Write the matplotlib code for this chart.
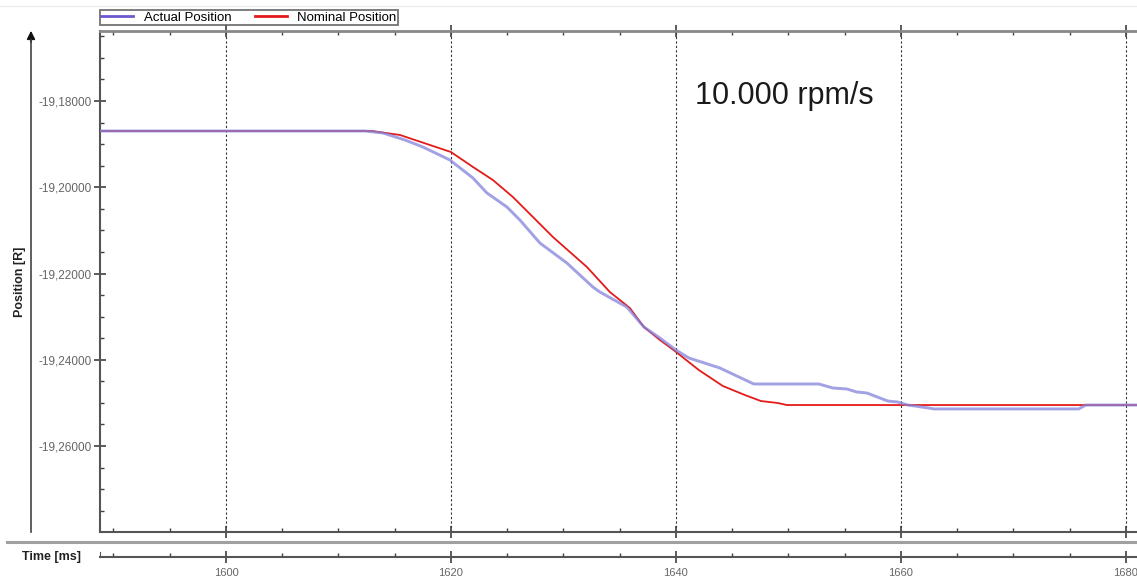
import matplotlib
matplotlib.use("Agg")
import matplotlib.pyplot as plt
from matplotlib.lines import Line2D
from matplotlib.ticker import MultipleLocator, FuncFormatter

plt.rcParams["font.family"] = ["Liberation Sans", "DejaVu Sans"]

# Nominal position (set point) [ms], [R]
nom_t = [1585.0, 1612.98, 1615.47, 1618.13, 1620.00, 1621.96, 1623.73, 1625.51,
         1627.29, 1629.07, 1632.09, 1634.13, 1635.91, 1637.16, 1638.58, 1639.91,
         1642.04, 1644.18, 1646.13, 1647.56, 1649.07, 1649.87, 1685.0]
nom_p = [-19.18696, -19.18696, -19.18788, -19.19020, -19.19183, -19.19530, -19.19832,
         -19.20226, -19.20690, -19.21154, -19.21849, -19.22429, -19.22800, -19.23241,
         -19.23542, -19.23797, -19.24238, -19.24609, -19.24817, -19.24957, -19.25003,
         -19.25050, -19.25050]

# Actual position (encoder)
act_t = [1585.0, 1612.36, 1613.96, 1615.91, 1617.51, 1619.91, 1621.96, 1623.20,
         1624.98, 1626.13, 1627.91, 1630.31, 1632.62, 1633.24, 1635.64, 1637.16,
         1638.58, 1640.00, 1641.16, 1643.91, 1646.93, 1652.71, 1653.96, 1655.20,
         1656.09, 1656.98, 1658.84, 1659.73, 1660.62, 1662.49, 1662.93, 1675.82,
         1676.44, 1685.0]
act_p = [-19.18696, -19.18696, -19.18742, -19.18904, -19.19067, -19.19368, -19.19786,
         -19.20133, -19.20458, -19.20759, -19.21293, -19.21757, -19.22313, -19.22429,
         -19.22777, -19.23241, -19.23496, -19.23774, -19.23959, -19.24191, -19.24562,
         -19.24562, -19.24655, -19.24678, -19.24748, -19.24771, -19.24957, -19.24980,
         -19.25050, -19.25119, -19.25140, -19.25140, -19.25050, -19.25050]

W, H = 1137, 579
fig = plt.figure(figsize=(W / 100, H / 100), dpi=100)

def fx(px):
    return px / W

def fy(py):
    return 1 - py / H

XMIN, XMAX = 1588.8, 1681.0
YMIN, YMAX = -19.27994, -19.16377

ax = fig.add_axes([fx(100), fy(532), fx(1137) - fx(100), fy(31) - fy(532)])
ax.plot(nom_t, nom_p, color="#e41a1a", lw=1.3, zorder=2, label="Nominal Position")
ax.plot(act_t, act_p, color="#8282dc", lw=2.1, alpha=0.75, zorder=3, label="Actual Position")
ax.set_xlim(XMIN, XMAX)
ax.set_ylim(YMIN, YMAX)

ax.xaxis.set_major_locator(MultipleLocator(20))
ax.xaxis.set_minor_locator(MultipleLocator(5))
ax.yaxis.set_major_locator(MultipleLocator(0.02))
ax.yaxis.set_minor_locator(MultipleLocator(0.005))
ax.yaxis.set_major_formatter(FuncFormatter(lambda v, p: f"{v:.5f}".replace(".", ",")))
ax.tick_params(axis="x", which="both", labelbottom=False, top=True)
ax.tick_params(axis="both", which="major", direction="inout", length=8, width=1.2, color="#404040")
ax.tick_params(axis="both", which="minor", direction="in", length=3, width=1.0, color="#404040")
ax.tick_params(axis="y", which="major", labelsize=8.5, labelcolor="#666666", pad=2)

for s in ["left", "bottom"]:
    ax.spines[s].set_color("#555555")
    ax.spines[s].set_linewidth(1.5)
ax.spines["top"].set_color("#888888")
ax.spines["top"].set_linewidth(2.0)
ax.spines["right"].set_visible(False)

ax.grid(axis="x", which="major", color="#333333", lw=0.8, linestyle=(0, (2, 2)))

ax.text(fx(695), fy(96), "10.000 rpm/s", transform=fig.transFigure,
        fontsize=22, color="#1a1a1a", va="center", ha="left")

# legend box above the plot
h, l = ax.get_legend_handles_labels()
leg = ax.legend([h[1], h[0]], [l[1], l[0]], ncol=2, loc="upper left",
                bbox_to_anchor=(fx(100), fy(10)), bbox_transform=fig.transFigure,
                fontsize=9.5, frameon=True, fancybox=False, borderpad=0.1,
                handlelength=2.4, handletextpad=0.8, columnspacing=1.8, borderaxespad=0)
leg.get_frame().set_edgecolor("#505050")
leg.get_frame().set_linewidth(1.3)
for ln in leg.get_lines():
    ln.set_alpha(1)
    ln.set_linewidth(2.0)
leg.get_lines()[0].set_color("#6a5acd")

# time axis below the separator
tx = fig.add_axes([fx(100), fy(557), fx(1137) - fx(100), 5 / H])
tx.set_xlim(XMIN, XMAX)
tx.set_yticks([])
tx.xaxis.set_major_locator(MultipleLocator(20))
tx.xaxis.set_minor_locator(MultipleLocator(5))
tx.tick_params(axis="x", which="major", direction="inout", length=8, width=1.2,
               color="#404040", labelsize=8, labelcolor="#666666", pad=4)
tx.tick_params(axis="x", which="minor", direction="in", length=3, width=1.0, color="#404040")
for s in ["top", "right"]:
    tx.spines[s].set_visible(False)
tx.spines["bottom"].set_color("#555555")
tx.spines["bottom"].set_linewidth(1.5)
tx.spines["left"].set_color("#555555")
tx.patch.set_alpha(0)

fig.text(fx(52), fy(557), "Time [ms]", fontsize=9, fontweight="bold",
         color="#222222", ha="center", va="center")
fig.text(fx(20), fy(282), "Position [R]", fontsize=9, fontweight="bold",
         color="#222222", ha="center", va="center", rotation=90)

# separators and vertical arrow
fig.add_artist(Line2D([fx(7), 1], [fy(542), fy(542)], color="#a0a0a0", lw=2.2))
fig.add_artist(Line2D([0, 1], [fy(6), fy(6)], color="#ececec", lw=1.0))
fig.add_artist(Line2D([fx(31), fx(31)], [fy(532), fy(40)], color="#444444", lw=1.2))
ax.annotate("", xy=(fx(31), fy(28)), xytext=(fx(31), fy(45)),
            xycoords="figure fraction", textcoords="figure fraction",
            arrowprops=dict(arrowstyle="-|>", color="#111111", lw=1.2, mutation_scale=12))

fig.savefig("out.png", dpi=100)
